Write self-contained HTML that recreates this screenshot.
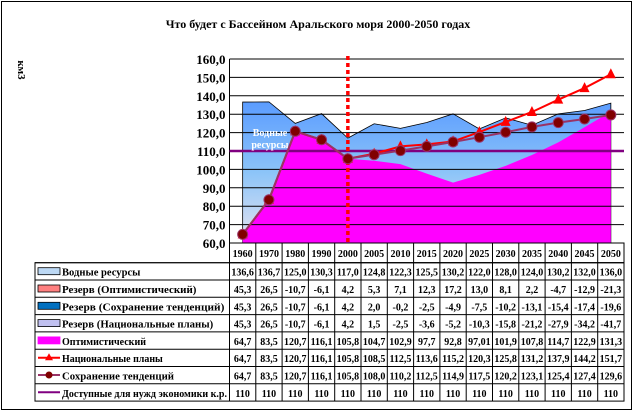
<!DOCTYPE html>
<html><head><meta charset="utf-8"><style>
body{margin:0;background:#fff}
svg{display:block}
text{font-family:"Liberation Serif","DejaVu Serif",serif;font-weight:bold}
</style></head><body>
<div id="root"></div>
<script>
(function(){
const X0=229.5,W=26.3,Y60=243,S=1.84;
const y=v=>Y60-(v-60)*S, x=i=>X0+W*(i+.5);
const yrs=[1960,1970,1980,1990,2000,2005,2010,2015,2020,2025,2030,2035,2040,2045,2050];
const water=[136.6,136.7,125,130.3,117,124.8,122.3,125.5,130.2,122,128,124,130.2,132,136];
const opt=[64.7,83.5,120.7,116.1,105.8,104.7,102.9,97.7,92.8,97.01,101.9,107.8,114.7,122.9,131.3];
const nat=[64.7,83.5,120.7,116.1,105.8,108.5,112.5,113.6,115.2,120.3,125.8,131.2,137.9,144.2,151.7];
const sav=[64.7,83.5,120.7,116.1,105.8,108,110.2,112.5,114.9,117.5,120.2,123.1,125.4,127.4,129.6];
let s='<svg width="636" height="415" xmlns="http://www.w3.org/2000/svg"><defs><linearGradient id="g" x1="0" y1="0" x2="0" y2="1"><stop offset="0" stop-color="#5b9cff"/><stop offset="0.5" stop-color="#8cc4f8"/><stop offset="1" stop-color="#e8e4f0"/></linearGradient></defs>';
s+='<rect x="1.5" y="1.5" width="630" height="408" fill="#fff" stroke="#000" stroke-width="1"/>';
s+='<text x="318" y="28" font-size="12" text-anchor="middle">Что будет с Бассейном Аральского моря  2000-2050 годах</text>';
s+='<text x="18" y="70" font-size="11" transform="rotate(90 18 70)" text-anchor="middle">км3</text>';
const area=(d,f,st)=>{let p='M'+x(0)+','+Y60+' '+d.map((v,i)=>'L'+x(i)+','+y(Math.max(v,60))).join(' ')+' L'+x(14)+','+Y60+'Z';return '<path d="'+p+'" fill="'+f+'" stroke="'+st+'" stroke-width="0.8"/>'};
s+=area(water,'url(#g)','#000');
s+=area(opt,'#ff00ff','none');
for(let v=60;v<=160;v+=10){s+='<line x1="'+X0+'" x2="'+(X0+15*W)+'" y1="'+y(v)+'" y2="'+y(v)+'" stroke="#000" stroke-width="1"/>';
s+='<text x="'+(X0-4)+'" y="'+(y(v)+5)+'" font-size="13" text-anchor="end">'+v.toFixed(1).replace('.',',')+'</text>'}
s+='<line x1="'+X0+'" x2="'+X0+'" y1="'+y(160)+'" y2="'+Y60+'" stroke="#000"/>';
s+='<line x1="'+X0+'" x2="'+(X0+15*W)+'" y1="'+y(110)+'" y2="'+y(110)+'" stroke="#800080" stroke-width="2.5"/>';
s+='<text x="270" y="136" font-size="10" fill="#fff" text-anchor="middle">Водные</text><text x="270" y="148" font-size="10" fill="#fff" text-anchor="middle">ресурсы</text>';
s+='<line x1="'+x(4)+'" x2="'+x(4)+'" y1="56" y2="'+Y60+'" stroke="#ff0000" stroke-width="3.5" stroke-dasharray="4,3"/>';
const pl=d=>d.map((v,i)=>x(i)+','+y(v)).join(' ');
s+='<polyline points="'+pl(nat)+'" fill="none" stroke="#ff0000" stroke-width="2"/>';
nat.forEach((v,i)=>{s+='<polygon points="'+x(i)+','+(y(v)-6)+' '+(x(i)-5)+','+(y(v)+4)+' '+(x(i)+5)+','+(y(v)+4)+'" fill="#ff0000"/>'});
s+='<polyline points="'+pl(sav)+'" fill="none" stroke="#993366" stroke-width="2"/>';
sav.forEach((v,i)=>{s+='<circle cx="'+x(i)+'" cy="'+y(v)+'" r="5" fill="#800000" stroke="#993366"/>'});
const T0=243,rh=17.3,L=35,R=X0+15*W;
s+='<rect x="'+X0+'" y="'+T0+'" width="'+(15*W)+'" height="19.7" fill="#fff" stroke="#000"/>';
yrs.forEach((yy,i)=>{s+='<text x="'+x(i)+'" y="'+(T0+14)+'" font-size="10" text-anchor="middle">'+yy+'</text>'});
const r0=262.7;
const f=a=>a.map(v=>v.toFixed(1));
const rows=[
['Водные ресурсы',f(water),'box','#bcd8f4','#000'],
['Резерв (Оптимистический)',f([45.3,26.5,-10.7,-6.1,4.2,5.3,7.1,12.3,17.2,13.0,8.1,2.2,-4.7,-12.9,-21.3]),'box','#ff8080','#000'],
['Резерв (Сохранение тенденций)',f([45.3,26.5,-10.7,-6.1,4.2,2.0,-0.2,-2.5,-4.9,-7.5,-10.2,-13.1,-15.4,-17.4,-19.6]),'box','#0070c0','#000'],
['Резерв (Национальные планы)',f([45.3,26.5,-10.7,-6.1,4.2,1.5,-2.5,-3.6,-5.2,-10.3,-15.8,-21.2,-27.9,-34.2,-41.7]),'box','#c0c0f0','#000'],
['Оптимистический',opt.map(v=>v==97.01?'97.01':v.toFixed(1)),'box','#ff00ff','#ff00ff'],
['Национальные планы',f(nat),'tri','#ff0000'],
['Сохранение тенденций',f(sav),'dot','#993366'],
['Доступные для нужд экономики к.р.',water.map(()=>'110'),'line','#800080']];
s+='<rect x="'+L+'" y="'+r0+'" width="'+(R-L)+'" height="'+(8*rh)+'" fill="none" stroke="#000"/>';
for(let k=0;k!==8;k++){const ry=r0+k*rh;const r=rows[k];
 s+='<line x1="'+L+'" x2="'+R+'" y1="'+ry+'" y2="'+ry+'" stroke="#000"/>';
 if(r[2]=='box')s+='<rect x="'+(L+3)+'" y="'+(ry+5)+'" width="22" height="7" fill="'+r[3]+'" stroke="'+r[4]+'" stroke-width="0.8"/>';
 else{s+='<line x1="'+(L+3)+'" x2="'+(L+25)+'" y1="'+(ry+8.5)+'" y2="'+(ry+8.5)+'" stroke="'+r[3]+'" stroke-width="2"/>';
  if(r[2]=='tri')s+='<polygon points="'+(L+14)+','+(ry+4)+' '+(L+10)+','+(ry+11)+' '+(L+18)+','+(ry+11)+'" fill="#ff0000"/>';
  if(r[2]=='dot')s+='<circle cx="'+(L+14)+'" cy="'+(ry+8.5)+'" r="3.5" fill="#800000"/>';}
 s+='<text x="'+(L+27)+'" y="'+(ry+13)+'" font-size="10" textLength="'+Math.min(r[0].length*5.6,165)+'" lengthAdjust="spacingAndGlyphs">'+r[0]+'</text>';
 r[1].forEach((v,i)=>{s+='<text x="'+x(i)+'" y="'+(ry+13)+'" font-size="10" text-anchor="middle">'+v.replace('.',',')+'</text>'});
}
for(let i=0;i!==16;i++)s+='<line x1="'+(X0+i*W)+'" x2="'+(X0+i*W)+'" y1="'+T0+'" y2="'+(r0+8*rh)+'" stroke="#000"/>';
s+='</svg>';
document.getElementById('root').innerHTML=s;
})();
</script>
</body></html>
